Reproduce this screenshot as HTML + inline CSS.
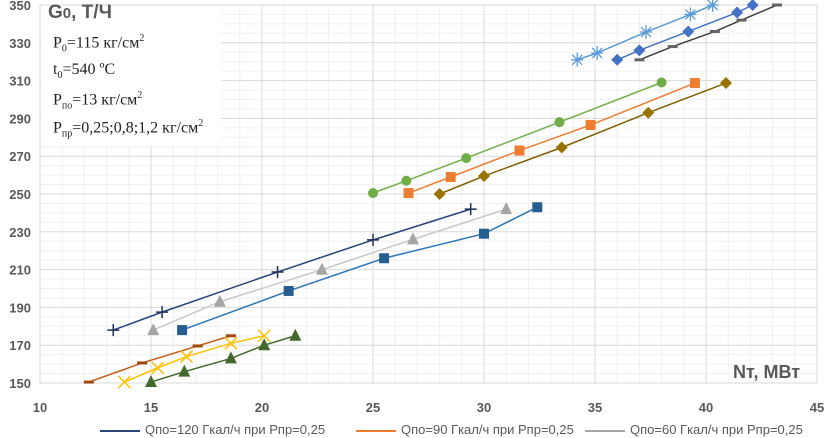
<!DOCTYPE html>
<html><head><meta charset="utf-8"><style>
body{margin:0;background:#fff;}
svg{display:block;font-family:"Liberation Sans",sans-serif;}
</style></head><body>
<svg id="chart" width="825" height="438"></svg>
<script>
const xTicks=[10,15,20,25,30,35,40,45];
const yTicks=[150,170,190,210,230,250,270,290,310,330,350];
const s1x=[13.3,15.5,20.7,25.0,29.4], s1y=[178,187.5,208.7,225.7,242];
const s2x=[15.1,18.1,22.7,26.8,31.0], s2y=[178,193,210,226,242];
const s3x=[16.4,21.2,25.5,30.0,32.4], s3y=[178,198.7,216,229,243];
const s4x=[25.0,26.5,29.2,33.4,38.0], s4y=[250.5,257,269,288,309];
const s5x=[26.6,28.5,31.6,34.8,39.5], s5y=[250.5,259,273,286.5,308.7];
const s6x=[28.0,30.0,33.5,37.4,40.9], s6y=[250,259.5,274.6,293,308.7];
const s7x=[34.2,35.1,37.3,39.3,40.3], s7y=[321,324.6,335.7,345,350];
const s8x=[36.0,37.0,39.2,41.4,42.1], s8y=[321,326,336,346,350];
const s9x=[37.0,38.5,40.4,41.6,43.2], s9y=[321,328,336,342,350];
const s10x=[12.2,14.6,17.1,18.6], s10y=[150.5,160.6,169.6,175];
const s11x=[13.8,15.3,16.6,18.6,20.1], s11y=[150.5,158,164,171,175];
const s12x=[15.0,16.5,18.6,20.1,21.5], s12y=[150.5,156,163,170,175];

const L=40,R=817,T=5,B=383;
const X=v=>L+(v-10)/35*(R-L);
const Y=v=>B-(v-150)/200*(B-T);
const svg=document.getElementById('chart');
const NS='http://www.w3.org/2000/svg';
function mk(tag,at,parent){const e=document.createElementNS(NS,tag);for(const k in at)e.setAttribute(k,at[k]);(parent||svg).appendChild(e);return e;}

for(let v=10;v<=45;v+=1){const g=mk('line',{x1:X(v),x2:X(v),y1:T,y2:B,stroke:v%5?'#f0f0f0':'#d9d9d9','stroke-width':1});

}
for(let v=150;v<=350;v+=5){const g=mk('line',{x1:L,x2:R,y1:Y(v),y2:Y(v),stroke:(v-150)%20?'#f0f0f0':'#d9d9d9','stroke-width':1});

}
mk('rect',{x:L,y:T,width:R-L,height:B-T,fill:'none',stroke:'#d9d9d9'});

xTicks.forEach(v=>{const t=mk('text',{x:X(v),y:412,'text-anchor':'middle','font-size':13,'font-weight':'bold',fill:'#595959'});t.textContent=v;

});
yTicks.forEach(v=>{const t=mk('text',{x:31,y:Y(v)+5,'text-anchor':'end','font-size':13,'font-weight':'bold',fill:'#595959'});t.textContent=v;

});

function marker(type,cx,cy,c,g){
  if(type==='plus'){mk('path',{d:`M${cx-6} ${cy}H${cx+6}M${cx} ${cy-6}V${cy+6}`,stroke:c,'stroke-width':1.5},g);}
  else if(type==='tri'){mk('polygon',{points:`${cx},${cy-7} ${cx-6},${cy+5} ${cx+6},${cy+5}`,fill:c},g);}
  else if(type==='sq'){mk('rect',{x:cx-5,y:cy-5,width:10,height:10,fill:c},g);}
  else if(type==='circ'){mk('circle',{cx,cy,r:5,fill:c},g);}
  else if(type==='dia'){mk('polygon',{points:`${cx},${cy-6} ${cx+6},${cy} ${cx},${cy+6} ${cx-6},${cy}`,fill:c},g);}
  else if(type==='star'){mk('path',{d:`M${cx-6} ${cy}H${cx+6}M${cx} ${cy-7}V${cy+7}M${cx-5} ${cy-5}L${cx+5} ${cy+5}M${cx-5} ${cy+5}L${cx+5} ${cy-5}`,stroke:c,'stroke-width':1.3},g);}
  else if(type==='x'){mk('path',{d:`M${cx-6} ${cy-6}L${cx+6} ${cy+6}M${cx-6} ${cy+6}L${cx+6} ${cy-6}`,stroke:c,'stroke-width':1.5},g);}
  else if(type==='dash'){mk('rect',{x:cx-5,y:cy-1.5,width:10,height:3,fill:c},g);}
}
const series=[
 [s1x,s1y,'#264478','#1f2d5a','plus','series-120-0.25'],
 [s2x,s2y,'#c8c8c8','#a5a5a5','tri','series-60-0.25'],
 [s3x,s3y,'#2e75b6','#255e91','sq','series-90-0.25b'],
 [s4x,s4y,'#70ad47','#70ad47','circ','series-green-circle'],
 [s5x,s5y,'#ed7d31','#ed7d31','sq','series-orange-square'],
 [s6x,s6y,'#7f6000','#997300','dia','series-olive-diamond'],
 [s7x,s7y,'#5b9bd5','#5b9bd5','star','series-blue-asterisk'],
 [s8x,s8y,'#4472c4','#4472c4','dia','series-blue-diamond'],
 [s9x,s9y,'#404040','#636363','dash','series-dark-dash'],
 [s10x,s10y,'#c55a11','#9e480e','dash','series-brown-dash'],
 [s11x,s11y,'#ffc000','#ffc000','x','series-yellow-x'],
 [s12x,s12y,'#43682b','#43682b','tri','series-green-triangle']
];
series.forEach(([xs,ys,lc,mc,type,name])=>{
  const g=mk('g',{});
  
  
  const p=mk('polyline',{points:xs.map((v,i)=>X(v)+','+Y(ys[i])).join(' '),fill:'none',stroke:lc,'stroke-width':1.5},g);
  
  
  xs.forEach((v,i)=>marker(type,X(v),Y(ys[i]),mc,g));
});
</script>
<div style="position:absolute;left:41px;top:6px;width:180px;height:140px;background:#fff;font-family:'Liberation Serif',serif;font-size:16px;color:#222;">
<div style="position:absolute;left:7px;top:-4px;font-family:'Liberation Sans',sans-serif;font-weight:bold;font-size:19px;color:#595959;">G<span style="font-size:15px">0</span>, Т/Ч</div>
<div style="position:absolute;left:12px;top:27px;white-space:nowrap;">P<sub style="font-size:10px">0</sub>=115 кг/см<sup style="font-size:10px">2</sup></div>
<div style="position:absolute;left:12px;top:55px;white-space:nowrap;">t<sub style="font-size:10px">0</sub>=540 ºC</div>
<div style="position:absolute;left:12px;top:84px;white-space:nowrap;">P<sub style="font-size:10px">по</sub>=13 кг/см<sup style="font-size:10px">2</sup></div>
<div style="position:absolute;left:12px;top:112px;white-space:nowrap;">P<sub style="font-size:10px">пр</sub>=0,25;0,8;1,2 кг/см<sup style="font-size:10px">2</sup></div>
</div>
<div style="position:absolute;left:733px;top:362px;font-family:'Liberation Sans',sans-serif;font-weight:bold;font-size:18px;color:#595959;">Nт, МВт</div>
<div style="position:absolute;left:0;top:422px;width:825px;font-family:'Liberation Sans',sans-serif;font-size:13px;color:#595959;">
<div style="position:absolute;left:100px;white-space:nowrap;"><span style="display:inline-block;width:40px;height:2px;background:#264478;vertical-align:middle;margin-right:5px"></span>Qпо=120 Гкал/ч при Рпр=0,25</div>
<div style="position:absolute;left:356px;white-space:nowrap;"><span style="display:inline-block;width:40px;height:2px;background:#ed7d31;vertical-align:middle;margin-right:5px"></span>Qпо=90 Гкал/ч при Рпр=0,25</div>
<div style="position:absolute;left:585px;white-space:nowrap;"><span style="display:inline-block;width:40px;height:2px;background:#a5a5a5;vertical-align:middle;margin-right:5px"></span>Qпо=60 Гкал/ч при Рпр=0,25</div>
</div>
</body></html>
